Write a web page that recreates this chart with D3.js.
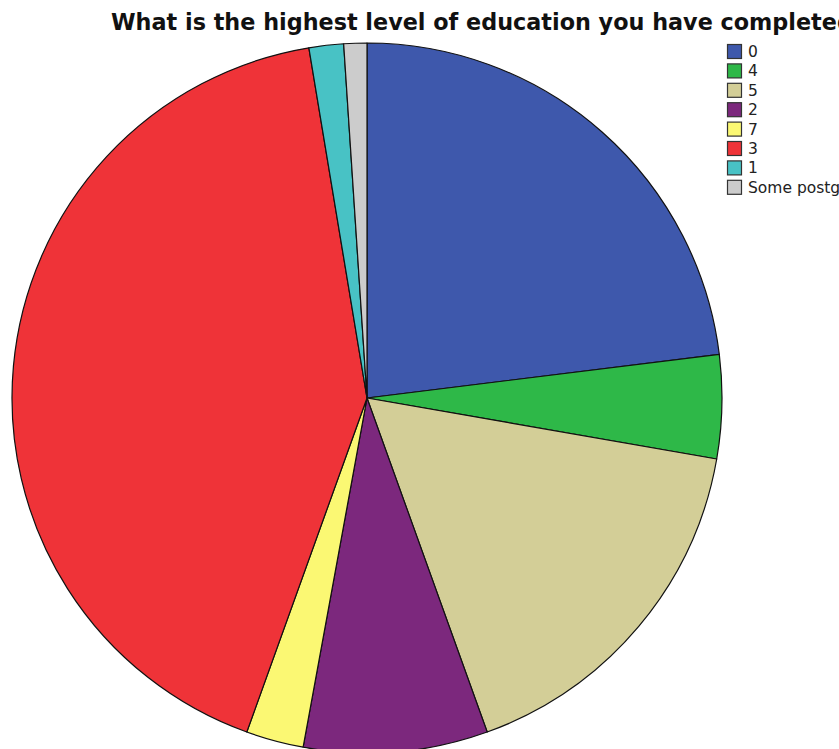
<!DOCTYPE html>
<html lang="en">
<head>
<meta charset="UTF-8">
<title>Education pie</title>
<style>
  body { margin: 0; background: #fff; }
  svg { display: block; }
</style>
<script src="https://d3js.org/d3.v7.min.js"></script>
</head>
<body>
<div id="chart"></div>
<script>
// categories in drawing order (clockwise from 12 o'clock)
const categories = ["0", "4", "5", "2", "7", "3", "1", "Some postgraduate"];
const counts = [44, 9, 32, 16, 5, 80, 3, 2];
const colors = ["#3e58ac", "#2eb848", "#d3ce97", "#7c287d", "#fbf873", "#ef3338", "#48c2c5", "#cccccc"];
const title = "What is the highest level of education you have completed?";

const width = 839, height = 749;
const cx = 367, cy = 398, radius = 355;

const svg = d3.select("#chart").append("svg")
    .attr("width", width)
    .attr("height", height);

const data = categories.map((c, i) => ({ name: c, value: counts[i] }));
const color = d3.scaleOrdinal().domain(categories).range(colors);

const pie = d3.pie().value(d => d.value).sort(null);
const arc = d3.arc().innerRadius(0).outerRadius(radius);

const g = svg.append("g").attr("transform", `translate(${cx},${cy})`);
g.selectAll("path")
    .data(pie(data))
    .enter().append("path")
    .attr("d", arc)
    .attr("fill", d => color(d.data.name))
    .attr("stroke", "#111")
    .attr("stroke-width", 1.2)
    .attr("stroke-linejoin", "round");

// title, sized so the visible part runs off the right edge like the original
const t = svg.append("text")
    .attr("x", 111)
    .attr("y", 30)
    .style("font-family", "'DejaVu Sans', sans-serif")
    .style("font-weight", "bold")
    .style("font-size", "20px")
    .attr("fill", "#111")
    .text(title.slice(0, title.length - 2));
const w = t.node().getComputedTextLength();
t.style("font-size", (20 * 726 / w).toFixed(2) + "px").text(title);

// legend
const legend = svg.append("g").attr("transform", "translate(727,44)");
const item = legend.selectAll("g")
    .data(categories)
    .enter().append("g")
    .attr("transform", (d, i) => `translate(0,${i * 19.4})`);
item.append("rect")
    .attr("x", 0.5).attr("y", 0.5)
    .attr("width", 14).attr("height", 14)
    .attr("fill", d => color(d))
    .attr("stroke", "#333")
    .attr("stroke-width", 1.2);
item.append("text")
    .attr("x", 21)
    .attr("y", 13)
    .style("font-family", "'DejaVu Sans', sans-serif")
    .style("font-size", "15.5px")
    .attr("fill", "#222")
    .text(d => d);
</script>
</body>
</html>
